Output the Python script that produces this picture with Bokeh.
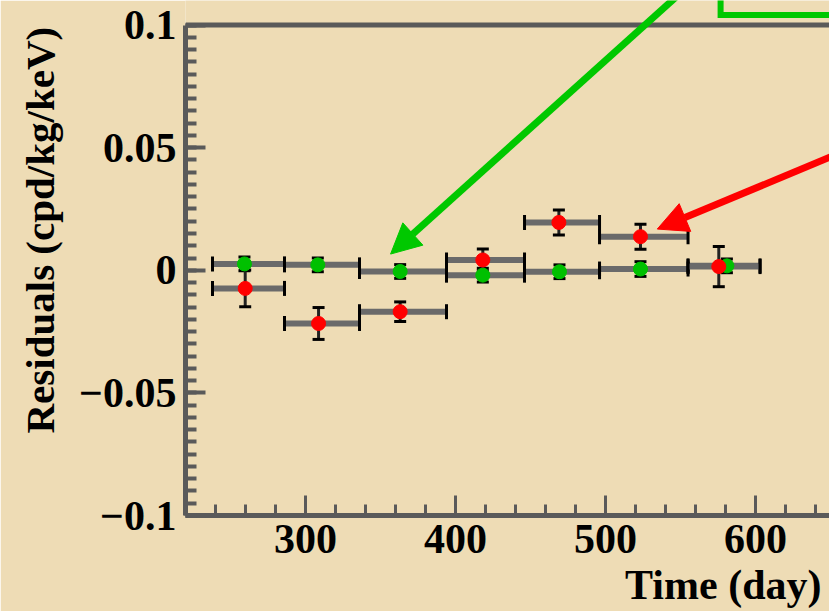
import math
from bokeh.plotting import figure
from bokeh.models import (Range1d, SingleIntervalTicker, CustomJSTickFormatter, Span, Title,
                          Whisker, TeeHead, Arrow, NormalHead, ColumnDataSource)
from bokeh.embed import file_html
from bokeh.resources import INLINE

# ---- data ----
bin_lo = [238, 286, 336, 394, 446, 496, 555]
bin_hi = [286, 336, 394, 446, 496, 555, 603]
green_x = [259.3, 308.2, 363.1, 418.2, 469.3, 523.3, 580.9]
green_y = [0.0026, 0.0022, -0.0005, -0.0020, -0.0006, 0.0005, 0.0018]
green_err = [0.0028, 0.0028, 0.0028, 0.0028, 0.0028, 0.0030, 0.0028]
red_x = [259.8, 308.7, 363.1, 418.2, 468.9, 523.3, 575.5]
red_y = [-0.0074, -0.0217, -0.0169, 0.0042, 0.0195, 0.0137, 0.0015]
red_err = [0.0075, 0.0065, 0.0040, 0.0045, 0.0051, 0.0051, 0.0082]

x_title = "Time (day)"
y_title = "Residuals (cpd/kg/keV)"

# annotation positions (data coordinates)
green_arrow = dict(x_start=553.3, y_start=0.1149, x_end=356.7, y_end=0.0066)
red_arrow = dict(x_start=663.3, y_start=0.0496, x_end=534.5, y_end=0.0168)
box_x = [576.7, 576.7, 660.0]
box_y = [0.1130, 0.1041, 0.1041]

BG = "#eedcb5"
AX = "#5a5a5a"
FONT = "Liberation Serif"

p = figure(width=829, height=611, x_range=Range1d(220, 649.3), y_range=Range1d(-0.1, 0.11),
           output_backend="svg", toolbar_location=None,
           min_border_left=185, min_border_right=0, min_border_top=0, min_border_bottom=96)
p.background_fill_color = BG
p.border_fill_color = BG
p.outline_line_color = None
p.xgrid.visible = False
p.ygrid.visible = False

# axes
p.xaxis.ticker = SingleIntervalTicker(interval=100, num_minor_ticks=5)
p.yaxis.ticker = SingleIntervalTicker(interval=0.05, num_minor_ticks=10)
p.yaxis.bounds = (-0.1, 0.1)
p.yaxis.formatter = CustomJSTickFormatter(code="""
if (Math.abs(tick) < 1e-9) return "0";
let s = Math.abs(tick).toFixed(2).replace(/0+$/, "");
return (tick < 0 ? "\u2212" : "") + s;
""")
for ax in (p.xaxis, p.yaxis):
    ax.axis_line_color = AX
    ax.axis_line_width = 5
    ax.major_tick_in = 20
    ax.major_tick_out = 0
    ax.minor_tick_in = 11
    ax.minor_tick_out = 0
    ax.major_tick_line_color = AX
    ax.minor_tick_line_color = AX
    ax.major_tick_line_width = 3
    ax.minor_tick_line_width = 3
    ax.major_label_text_font = FONT
    ax.major_label_text_font_style = "bold"
    ax.major_label_text_font_size = "42px"
    ax.major_label_text_color = "black"
p.yaxis.major_tick_line_width = 4
p.yaxis.minor_tick_line_width = 4
p.xaxis.major_label_standoff = 9
p.yaxis.major_label_standoff = 9

# top frame line
p.add_layout(Span(location=0.1, dimension="width", line_color=AX, line_width=5))

# error bars
src_g = ColumnDataSource(dict(x=green_x, y=green_y, lo=bin_lo, hi=bin_hi,
                              el=[y - e for y, e in zip(green_y, green_err)],
                              eh=[y + e for y, e in zip(green_y, green_err)]))
src_r = ColumnDataSource(dict(x=red_x, y=red_y, lo=bin_lo, hi=bin_hi,
                              el=[y - e for y, e in zip(red_y, red_err)],
                              eh=[y + e for y, e in zip(red_y, red_err)]))

for src in (src_g, src_r):
    p.add_layout(Whisker(base="y", lower="lo", upper="hi", dimension="width", source=src,
                         line_color="#6a6a6a", line_width=6, level="underlay",
                         lower_head=TeeHead(size=15, line_color="black", line_width=3),
                         upper_head=TeeHead(size=15, line_color="black", line_width=3)))
for src in (src_g, src_r):
    p.add_layout(Whisker(base="x", lower="el", upper="eh", dimension="height", source=src,
                         line_color="#222222", line_width=3, level="underlay",
                         lower_head=TeeHead(size=12, line_color="black", line_width=3),
                         upper_head=TeeHead(size=12, line_color="black", line_width=3)))

p.scatter("x", "y", source=src_g, size=14, fill_color="#00c000", line_color="#00c000")
p.scatter("x", "y", source=src_r, size=14, fill_color="#ff0000", line_color="#ff0000")

# decorations: arrows and box
p.line(box_x, box_y, line_color="#00c800", line_width=6, line_join="miter")
p.add_layout(Arrow(line_color="#00c800", line_width=7,
                   end=NormalHead(size=30, fill_color="#00c800", line_color="#00c800"),
                   **green_arrow))
p.add_layout(Arrow(line_color="#ff0000", line_width=7,
                   end=NormalHead(size=30, fill_color="#ff0000", line_color="#ff0000"),
                   **red_arrow))

# axis titles as side titles
p.add_layout(Title(text=x_title, align="right", offset=8, standoff=8,
                   text_font=FONT, text_font_style="bold", text_font_size="42px",
                   text_color="black"), "below")
p.add_layout(Title(text=y_title, align="left", offset=82, standoff=27,
                   text_font=FONT, text_font_style="bold", text_font_size="41px",
                   text_color="black"), "left")

open("out.html", "w").write(file_html(p, INLINE))
